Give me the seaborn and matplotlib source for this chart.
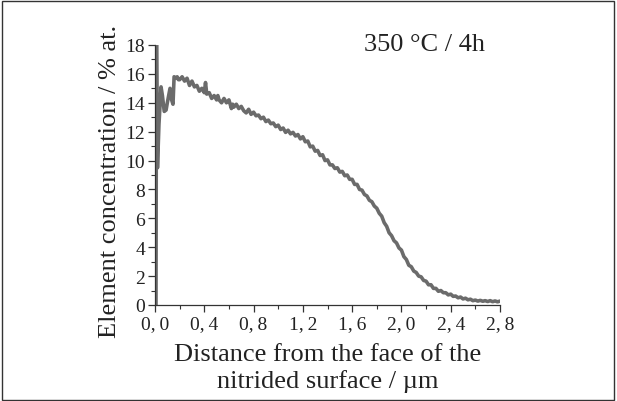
import numpy as np
import pandas as pd
import matplotlib
matplotlib.use("Agg")
import matplotlib.pyplot as plt
from matplotlib.patches import Rectangle
from matplotlib.ticker import MultipleLocator
import seaborn as sns

# ---- data ----
distance_um = [
    0.008, 0.012, 0.020, 0.032, 0.049, 0.060, 0.075, 0.090, 0.100,
    0.122, 0.135, 0.146, 0.155, 0.170, 0.180, 0.190,
    0.20, 0.22, 0.24, 0.26, 0.28, 0.30, 0.32, 0.34, 0.36, 0.38, 0.40, 0.41,
    0.42, 0.44, 0.46, 0.48, 0.50, 0.51, 0.52, 0.54, 0.56, 0.58, 0.60, 0.62,
    0.63, 0.64, 0.66, 0.68, 0.70, 0.72, 0.74, 0.76, 0.78, 0.80, 0.82, 0.84,
    0.86, 0.88, 0.90, 0.92, 0.94, 0.96, 0.98, 1.00, 1.02, 1.04, 1.06, 1.08,
    1.10, 1.12, 1.14, 1.16, 1.18, 1.20, 1.22, 1.24, 1.26, 1.28, 1.30, 1.32,
    1.34, 1.36, 1.38, 1.40, 1.42, 1.44, 1.46, 1.48, 1.50, 1.52, 1.54, 1.56,
    1.58, 1.60, 1.62, 1.64, 1.66, 1.68, 1.70, 1.72, 1.74, 1.76, 1.78, 1.80,
    1.82, 1.84, 1.86, 1.88, 1.90, 1.92, 1.94, 1.96, 1.98, 2.00, 2.02, 2.04,
    2.06, 2.08, 2.10, 2.12, 2.14, 2.16, 2.18, 2.20, 2.22, 2.24, 2.26, 2.28,
    2.30, 2.32, 2.34, 2.36, 2.38, 2.40, 2.42, 2.44, 2.46, 2.48, 2.50, 2.52,
    2.54, 2.56, 2.58, 2.60, 2.62, 2.64, 2.66, 2.68, 2.70, 2.72, 2.74, 2.76,
    2.78, 2.80,
]
concentration_pct = [
    0.0, 18.0, 9.5, 12.5, 15.1, 14.5, 13.4, 13.5, 14.0,
    15.0, 14.2, 13.9, 15.8, 15.7, 15.8, 15.6,
    15.6, 15.8, 15.5, 15.7, 15.2, 15.5, 15.1, 15.2, 14.8, 15.0, 14.7, 15.4,
    14.6, 14.7, 14.3, 14.5, 14.2, 14.5, 14.2, 14.0, 14.3, 14.0, 14.2, 13.6,
    13.9, 13.7, 13.9, 13.6, 13.75, 13.45, 13.3, 13.55, 13.2, 13.35, 13.1, 13.15,
    12.9, 13.0, 12.7, 12.8, 12.55, 12.6, 12.35, 12.45, 12.15, 12.25, 11.95, 12.1,
    11.85, 11.95, 11.7, 11.8, 11.5, 11.65, 11.3, 11.35, 10.95, 11.0, 10.65, 10.7,
    10.35, 10.4, 10.0, 10.05, 9.7, 9.7, 9.45, 9.5, 9.2, 9.25, 8.95, 9.0,
    8.7, 8.7, 8.35, 8.35, 8.0, 7.95, 7.65, 7.55, 7.25, 7.15, 6.85, 6.7,
    6.35, 6.15, 5.7, 5.45, 5.0, 4.8, 4.45, 4.3, 3.95, 3.8, 3.35, 3.15,
    2.75, 2.65, 2.35, 2.25, 2.0, 1.95, 1.7, 1.65, 1.4, 1.4, 1.15, 1.15,
    0.95, 1.0, 0.85, 0.85, 0.7, 0.75, 0.6, 0.62, 0.5, 0.55, 0.42, 0.47,
    0.36, 0.4, 0.3, 0.34, 0.27, 0.32, 0.26, 0.3, 0.24, 0.3, 0.23, 0.28,
    0.22, 0.27,
]
x_ticks = [0.0, 0.4, 0.8, 1.2, 1.6, 2.0, 2.4, 2.8]
x_tick_labels = ["0,0", "0,4", "0,8", "1,2", "1,6", "2,0", "2,4", "2,8"]
y_ticks = [0, 2, 4, 6, 8, 10, 12, 14, 16, 18]
annotation = "350 °C / 4h"
x_label = "Distance from the face of the\nnitrided surface / µm"
y_label = "Element concentration / % at."

df = pd.DataFrame({"x": distance_um, "y": concentration_pct})

sns.set_style("ticks")
plt.rcParams["font.family"] = ["Liberation Serif", "DejaVu Serif"]

fig = plt.figure(figsize=(6.17, 4.02), dpi=100)
ax = fig.add_axes([155 / 617, 1 - 306 / 402, 345 / 617, 260 / 402])

sns.lineplot(data=df, x="x", y="y", ax=ax, estimator=None, sort=False,
             color="#6b6b6b", linewidth=2.6)

ax.set_xlim(0, 2.8)
ax.set_ylim(0, 18)
ax.set_xticks(x_ticks)
ax.set_xticklabels([t.replace(",", ",\u2009") for t in x_tick_labels])
ax.set_yticks(y_ticks)
ax.xaxis.set_minor_locator(MultipleLocator(0.2))
ax.yaxis.set_minor_locator(MultipleLocator(1))

for s in ["top", "right"]:
    ax.spines[s].set_visible(False)
for s in ["left", "bottom"]:
    ax.spines[s].set_color("#333333")
    ax.spines[s].set_linewidth(0.9)

ax.tick_params(axis="both", which="major", direction="out", length=5,
               width=0.9, color="#333333", labelsize=14, labelcolor="#222222", pad=2)
ax.tick_params(axis="both", which="minor", direction="out", length=3,
               width=0.8, color="#333333")

ax.set_xlabel(x_label, fontsize=19, color="#222222", linespacing=1.2, va="top")
ax.xaxis.set_label_coords(0.5, -0.148)
ax.set_ylabel(y_label, fontsize=19, color="#222222", va="center")
ax.yaxis.set_label_coords(-0.130, 0.478)

fig.text(424 / 617, 1 - 45 / 402, annotation, fontsize=19, color="#222222",
         ha="center", va="center")

fig.patches.append(Rectangle((0.004, 0.003), 0.991, 0.991, transform=fig.transFigure,
                             fill=False, edgecolor="#333333", linewidth=1.0))

fig.savefig("out.png", dpi=100)
